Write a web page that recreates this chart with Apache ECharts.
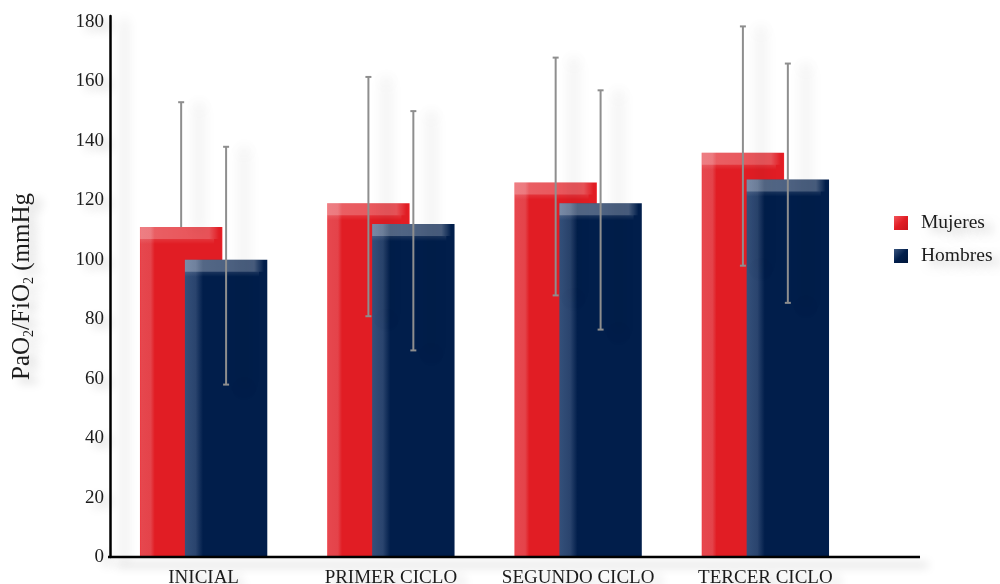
<!DOCTYPE html>
<html>
<head>
<meta charset="utf-8">
<script src="https://cdn.jsdelivr.net/npm/echarts@6/dist/echarts.min.js"></script>
<style>
  html, body { margin: 0; padding: 0; background: #ffffff; }
  #chart { width: 1000px; height: 584px; }
</style>
</head>
<body>
<div id="chart"></div>
<script>
// PaO2/FiO2 by treatment cycle, women vs men (mean with error whiskers)
const categories = ['INICIAL', 'PRIMER CICLO', 'SEGUNDO CICLO', 'TERCER CICLO'];
const mujeres = [111, 119, 126, 136];
const hombres = [100, 112, 119, 127];
const mujeresLow = [111, 81, 88, 98];
const mujeresHigh = [153, 161.5, 168, 178.5];
const hombresLow = [58, 69.5, 76.5, 85.5];
const hombresHigh = [138, 150, 157, 166];

const FONT = '"Liberation Serif", "DejaVu Serif", serif';
const TEXT = '#1c1c1c';
const RED = '#e11d24';
const NAVY = '#011e4b';

const GRID = { left: 110, right: 141, top: 16, bottom: 27 };
const BAR_FRAC = 0.44;   // bar width as share of the category band
const SHIFT_FRAC = 0.12; // each series' offset from the band centre

function lg(x2, y2, stops) {
  return new echarts.graphic.LinearGradient(0, 0, x2, y2,
    stops.map(s => ({ offset: s[0], color: s[1] })));
}

const palettes = {
  red: {
    body: [[0, '#f0353c'], [0.015, '#e6474e'], [0.13, '#e4434a'], [0.18, RED], [0.985, RED], [1, '#f5262c']],
    top: [[0, 'rgba(255,255,255,0.30)'], [0.84, 'rgba(255,255,255,0.24)'], [0.96, 'rgba(255,255,255,0)'], [1, 'rgba(255,255,255,0)']]
  },
  navy: {
    body: [[0, '#34507a'], [0.13, '#2a446e'], [0.22, NAVY], [1, NAVY]],
    top: [[0, 'rgba(255,255,255,0.34)'], [0.84, 'rgba(255,255,255,0.28)'], [0.96, 'rgba(255,255,255,0)'], [1, 'rgba(255,255,255,0)']]
  }
};

function barRenderer(pal, dir) {
  return function (params, api) {
    const idx = api.value(0);
    const val = api.value(1);
    const band = api.size([1, 0])[0];
    const w = band * BAR_FRAC;
    const top = api.coord([idx, val]);
    const base = api.coord([idx, 0]);
    const cx = top[0] + dir * band * SHIFT_FRAC;
    const x = cx - w / 2;
    const y = top[1];
    const h = base[1] - top[1];
    return {
      type: 'group',
      children: [
        {
          type: 'rect',
          shape: { x: x, y: y, width: w, height: h },
          style: {
            fill: lg(1, 0, pal.body),
            shadowBlur: 16,
            shadowOffsetX: 14,
            shadowOffsetY: 2,
            shadowColor: 'rgba(0,0,0,0.36)'
          }
        },
        {
          type: 'rect',
          shape: { x: x, y: y, width: w, height: Math.min(12, h) },
          style: { fill: lg(1, 0, pal.top) }
        },
        {
          type: 'rect',
          shape: { x: x, y: y + 12, width: w * 0.9, height: 5 },
          style: { fill: lg(0, 1, [[0, 'rgba(255,255,255,0.10)'], [1, 'rgba(255,255,255,0)']]) }
        }
      ]
    };
  };
}

function errRenderer(dir) {
  return function (params, api) {
    const idx = api.value(0);
    const lo = api.coord([idx, api.value(1)]);
    const hi = api.coord([idx, api.value(2)]);
    const band = api.size([1, 0])[0];
    const cx = hi[0] + dir * band * SHIFT_FRAC;
    const cap = 3;
    const style = {
      stroke: '#8e8e8e',
      lineWidth: 2,
      shadowBlur: 14,
      shadowOffsetX: 18,
      shadowOffsetY: 4,
      shadowColor: 'rgba(0,0,0,0.28)'
    };
    const children = [
      { type: 'line', shape: { x1: cx, y1: hi[1], x2: cx, y2: lo[1] }, style: style },
      { type: 'line', shape: { x1: cx - cap, y1: hi[1], x2: cx + cap, y2: hi[1] }, style: style }
    ];
    if (api.value(1) < api.value(3)) {
      children.push({ type: 'line', shape: { x1: cx - cap, y1: lo[1], x2: cx + cap, y2: lo[1] }, style: style });
    }
    return { type: 'group', children: children };
  };
}

const textShadow = {
  textShadowColor: 'rgba(0,0,0,0.22)',
  textShadowBlur: 10,
  textShadowOffsetX: 8,
  textShadowOffsetY: 5
};

const chart = echarts.init(document.getElementById('chart'), null, { renderer: 'canvas' });

chart.setOption({
  backgroundColor: '#ffffff',
  animation: false,
  grid: Object.assign({ containLabel: false, outerBoundsMode: 'none' }, GRID),
  legend: {
    orient: 'vertical',
    left: 889,
    top: 208,
    padding: 5,
    itemWidth: 14,
    itemHeight: 14,
    itemGap: 13,
    icon: 'rect',
    textStyle: Object.assign({
      fontFamily: FONT, fontSize: 19.5, color: TEXT, padding: [0, 0, 0, 8]
    }, textShadow),
    data: [
      { name: 'Mujeres', itemStyle: { color: lg(1, 1, [[0, '#f2545a'], [0.5, RED], [1, '#c8141b']]) } },
      { name: 'Hombres', itemStyle: { color: lg(1, 1, [[0, '#3a557e'], [0.5, NAVY], [1, '#00163a']]) } }
    ]
  },
  xAxis: {
    type: 'category',
    data: categories,
    axisLine: { show: false },
    axisTick: { show: false },
    axisLabel: Object.assign({
      fontFamily: FONT, fontSize: 19, color: TEXT, margin: 12, interval: 0
    }, textShadow),
    splitLine: { show: false }
  },
  yAxis: {
    type: 'value',
    min: 0,
    max: 182,
    interval: 20,
    name: 'PaO{sub|2}/FiO{sub|2} (mmHg',
    nameLocation: 'middle',
    nameGap: 74,
    nameRotate: 90,
    nameTextStyle: Object.assign({
      fontFamily: FONT, fontSize: 25, color: TEXT,
      rich: { sub: { fontFamily: FONT, fontSize: 14, color: TEXT, verticalAlign: 'bottom', padding: [14, 0, 0, 0] } }
    }, textShadow),
    axisLine: {
      show: true,
      lineStyle: {
        color: '#000', width: 2.5,
        shadowColor: 'rgba(0,0,0,0.22)', shadowBlur: 12, shadowOffsetX: 14, shadowOffsetY: 4
      }
    },
    axisTick: { show: false },
    axisLabel: Object.assign({
      fontFamily: FONT, fontSize: 19, color: TEXT, margin: 6, showMaxLabel: false
    }, textShadow),
    splitLine: { show: false }
  },
  series: [
    {
      name: 'Mujeres',
      type: 'custom',
      itemStyle: { color: RED },
      renderItem: barRenderer(palettes.red, -1),
      encode: { x: 0, y: 1 },
      data: mujeres.map((v, i) => [i, v]),
      z: 2
    },
    {
      name: 'Hombres',
      type: 'custom',
      itemStyle: { color: NAVY },
      renderItem: barRenderer(palettes.navy, 1),
      encode: { x: 0, y: 1 },
      data: hombres.map((v, i) => [i, v]),
      z: 3
    },
    {
      name: 'Mujeres',
      type: 'custom',
      renderItem: errRenderer(-1),
      encode: { x: 0, y: [1, 2] },
      data: mujeres.map((v, i) => [i, mujeresLow[i], mujeresHigh[i], v]),
      z: 4
    },
    {
      name: 'Hombres',
      type: 'custom',
      renderItem: errRenderer(1),
      encode: { x: 0, y: [1, 2] },
      data: hombres.map((v, i) => [i, hombresLow[i], hombresHigh[i], v]),
      z: 4
    }
  ]
});

// Baseline at y = 0, running from the value axis on past the last category
const zeroY = chart.convertToPixel({ yAxisIndex: 0 }, 0);
chart.setOption({
  graphic: [{
    type: 'line',
    shape: { x1: GRID.left - 2, y1: zeroY, x2: 920, y2: zeroY },
    style: {
      stroke: '#000', lineWidth: 2.5,
      shadowColor: 'rgba(0,0,0,0.25)', shadowBlur: 10, shadowOffsetX: 8, shadowOffsetY: 8
    },
    z: 5
  }]
});
</script>
</body>
</html>
